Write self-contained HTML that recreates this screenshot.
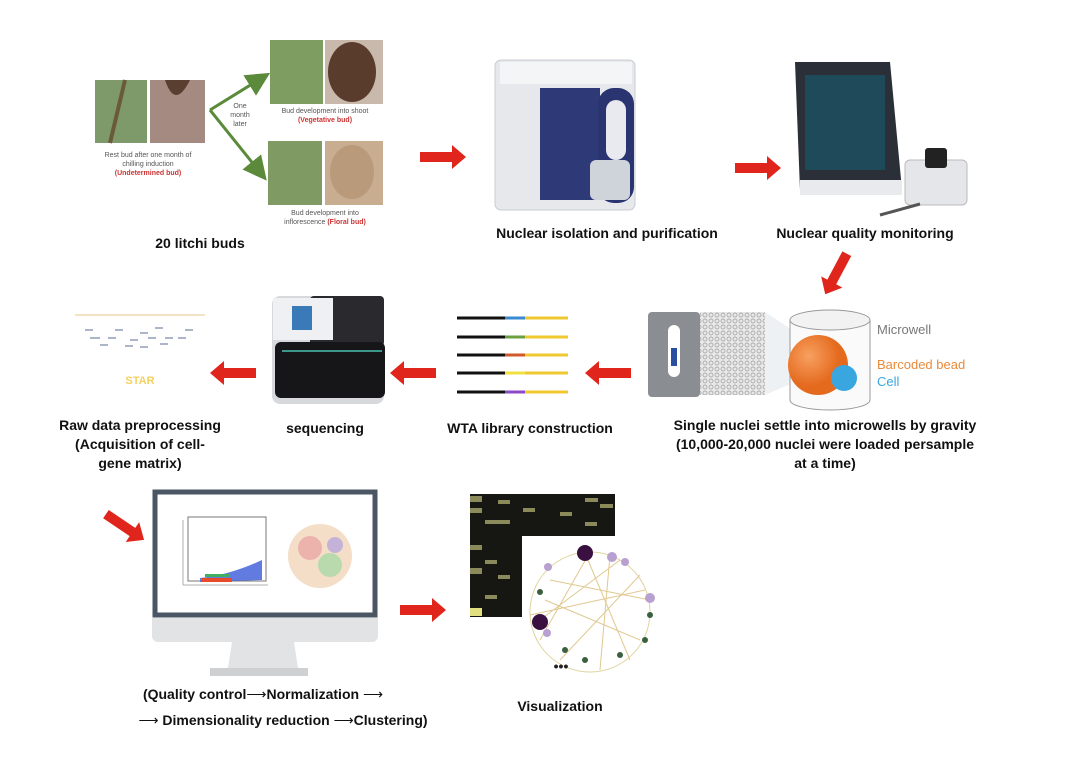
<!DOCTYPE html>
<html><head><meta charset="utf-8"><style>
body{margin:0;background:#fff}
svg{display:block}
text{font-family:"Liberation Sans",Arial,sans-serif}
.b{font-weight:bold;font-size:14px;fill:#111}
.s{font-size:7px;fill:#555}
</style></head><body>
<svg width="1080" height="759" viewBox="0 0 1080 759">
<defs>
<marker id="ga" markerWidth="8" markerHeight="8" refX="6" refY="4" orient="auto"><path d="M0,0L8,4L0,8z" fill="#5a8a3a"/></marker>
<pattern id="hx" width="6" height="6" patternUnits="userSpaceOnUse"><rect width="6" height="6" fill="#e8e8e8"/><circle cx="3" cy="3" r="2" fill="none" stroke="#999" stroke-width="0.7"/></pattern>
<radialGradient id="og" cx="0.35" cy="0.35"><stop offset="0" stop-color="#f8a060"/><stop offset="1" stop-color="#e46a1e"/></radialGradient>
<path id="ra" d="M-23,-5h32v-7l14,12l-14,12v-7h-32z" fill="#e0261c"/>
</defs>

<!-- Bud photos -->
<rect x="95" y="80" width="52" height="63" fill="#7f9a6a"/>
<path d="M110,143 L125,80" stroke="#6b5a3a" stroke-width="4"/>
<rect x="150" y="80" width="55" height="63" fill="#a48a80"/>
<path d="M165,80 Q175,110 190,80" fill="#5a3e30"/>
<text x="148" y="157" text-anchor="middle" class="s">Rest bud after one month of</text>
<text x="148" y="166" text-anchor="middle" class="s">chilling induction</text>
<text x="148" y="175" text-anchor="middle" class="s" style="fill:#c33;font-weight:bold">(Undetermined bud)</text>

<rect x="270" y="40" width="53" height="64" fill="#7d9e60"/>
<rect x="325" y="40" width="58" height="64" fill="#c9b9ad"/>
<ellipse cx="352" cy="72" rx="24" ry="30" fill="#5a3c2c"/>
<text x="325" y="113" text-anchor="middle" class="s">Bud development into shoot</text>
<text x="325" y="122" text-anchor="middle" class="s" style="fill:#c33;font-weight:bold">(Vegetative bud)</text>

<rect x="268" y="141" width="54" height="64" fill="#809a64"/>
<rect x="325" y="141" width="58" height="64" fill="#c8ad90"/>
<ellipse cx="352" cy="172" rx="22" ry="27" fill="#b99a7a"/>
<text x="325" y="215" text-anchor="middle" class="s">Bud development into</text>
<text x="325" y="224" text-anchor="middle" class="s">inflorescence <tspan style="fill:#c33;font-weight:bold">(Floral bud)</tspan></text>

<path d="M210,110 L265,76" stroke="#5a8a3a" stroke-width="3" marker-end="url(#ga)"/>
<path d="M210,110 L263,176" stroke="#5a8a3a" stroke-width="3" marker-end="url(#ga)"/>
<text x="240" y="108" text-anchor="middle" class="s">One</text>
<text x="240" y="117" text-anchor="middle" class="s">month</text>
<text x="240" y="126" text-anchor="middle" class="s">later</text>
<text x="200" y="248" text-anchor="middle" class="b">20 litchi buds</text>

<!-- red arrows -->
<use href="#ra" transform="translate(443,157)"/>
<use href="#ra" transform="translate(758,168)"/>
<use href="#ra" transform="translate(836,274) rotate(118)"/>
<use href="#ra" transform="translate(608,373) rotate(180)"/>
<use href="#ra" transform="translate(413,373) rotate(180)"/>
<use href="#ra" transform="translate(233,373) rotate(180)"/>
<use href="#ra" transform="translate(125,527) rotate(34)"/>
<use href="#ra" transform="translate(423,610)"/>

<!-- Machine 1 -->
<rect x="495" y="60" width="140" height="150" rx="6" fill="#e6e8ec" stroke="#c8ccd2"/>
<rect x="500" y="62" width="132" height="22" fill="#f4f5f7"/>
<path d="M540,88 L600,88 L600,200 L540,200z" fill="#2e3a78"/>
<rect x="598" y="88" width="36" height="115" rx="16" fill="#2a3470"/>
<rect x="606" y="100" width="20" height="60" rx="10" fill="#e8eaf0"/>
<rect x="590" y="160" width="40" height="40" rx="6" fill="#cfd3da"/>
<text x="607" y="238" text-anchor="middle" class="b">Nuclear isolation and purification</text>

<!-- Machine 2 -->
<path d="M795,62 L890,62 L902,190 L800,190z" fill="#2a2f38"/>
<rect x="805" y="75" width="80" height="95" fill="#1e4a5a"/>
<rect x="800" y="180" width="102" height="15" fill="#e8eaee"/>
<rect x="905" y="160" width="62" height="45" rx="5" fill="#e4e6ea" stroke="#bbb"/>
<rect x="925" y="148" width="22" height="20" rx="3" fill="#222"/>
<path d="M880,215 L920,204" stroke="#555" stroke-width="3"/>
<text x="865" y="238" text-anchor="middle" class="b">Nuclear quality monitoring</text>

<!-- Microwell -->
<rect x="648" y="312" width="52" height="85" rx="4" fill="#8a8d92"/>
<rect x="668" y="325" width="12" height="52" rx="6" fill="#fff"/>
<rect x="671" y="348" width="6" height="18" fill="#2a4fa0"/>
<path d="M700,312 L765,312 L765,395 L700,395z" fill="url(#hx)"/>
<path d="M765,312 L800,335 L800,380 L765,395z" fill="#eef1f4"/>
<path d="M790,320 L790,400 A40,10 0 0 0 870,400 L870,320" fill="#fafafa" stroke="#999"/>
<ellipse cx="830" cy="320" rx="40" ry="10" fill="#f2f2f2" stroke="#999"/>
<circle cx="818" cy="365" r="30" fill="url(#og)"/>
<circle cx="844" cy="378" r="13" fill="#3aa6e0"/>
<text x="877" y="334" font-size="13" fill="#777">Microwell</text>
<text x="877" y="369" font-size="13" fill="#ea8a3a">Barcoded bead</text>
<text x="877" y="386" font-size="13" fill="#3aa6e0">Cell</text>
<text x="825" y="430" text-anchor="middle" class="b">Single nuclei settle into microwells by gravity</text>
<text x="825" y="449" text-anchor="middle" class="b">(10,000-20,000 nuclei were loaded persample</text>
<text x="825" y="468" text-anchor="middle" class="b">at a time)</text>

<!-- WTA -->
<g stroke-width="3">
<g><path d="M457,318h48" stroke="#111"/><path d="M505,318h20" stroke="#3a8ad0"/><path d="M525,318h43" stroke="#f0c830"/></g>
<g><path d="M457,337h48" stroke="#111"/><path d="M505,337h20" stroke="#6aa040"/><path d="M525,337h43" stroke="#f0c830"/></g>
<g><path d="M457,355h48" stroke="#111"/><path d="M505,355h20" stroke="#d05a2a"/><path d="M525,355h43" stroke="#f0c830"/></g>
<g><path d="M457,373h48" stroke="#111"/><path d="M505,373h20" stroke="#f0e040"/><path d="M525,373h43" stroke="#f0c830"/></g>
<g><path d="M457,392h48" stroke="#111"/><path d="M505,392h20" stroke="#8a4ac8"/><path d="M525,392h43" stroke="#f0c830"/></g>
</g>
<text x="530" y="433" text-anchor="middle" class="b">WTA library construction</text>

<!-- Sequencer -->
<rect x="272" y="296" width="112" height="108" rx="8" fill="#d8d9dc"/>
<rect x="310" y="296" width="74" height="50" rx="4" fill="#2a2a2e"/>
<rect x="273" y="298" width="60" height="42" fill="#eef0f2"/>
<rect x="292" y="306" width="20" height="24" fill="#3a7ab8"/>
<rect x="275" y="342" width="110" height="56" rx="6" fill="#161618"/>
<path d="M282,351h100" stroke="#4ac0b0" stroke-width="1.5"/>
<text x="325" y="433" text-anchor="middle" class="b">sequencing</text>

<!-- Raw data -->
<path d="M75,315h130" stroke="#f0d8b0" stroke-width="1.5"/>
<g stroke="#7a8aa8" stroke-width="1.2">
<path d="M85,330h8M115,330h8M140,333h8M155,328h8M185,330h8M90,338h10M108,338h8M130,340h8M148,338h8M165,338h8M178,338h8M100,345h8M125,346h8M140,347h8M160,344h8"/>
</g>
<text x="140" y="384" text-anchor="middle" font-size="11" font-weight="bold" fill="#f5d060">STAR</text>
<text x="140" y="430" text-anchor="middle" class="b">Raw data preprocessing</text>
<text x="140" y="449" text-anchor="middle" class="b">(Acquisition of cell-</text>
<text x="140" y="468" text-anchor="middle" class="b">gene matrix)</text>

<!-- Monitor -->
<rect x="155" y="492" width="220" height="123" fill="#fff" stroke="#4a5663" stroke-width="5"/>
<path d="M152,618h226v18a6,6 0 0 1 -6,6h-214a6,6 0 0 1 -6,-6z" fill="#e2e3e5"/>
<path d="M232,642h62l4,26h-70z" fill="#e2e3e5"/>
<rect x="210" y="668" width="98" height="8" fill="#cfd0d2"/>
<rect x="188" y="517" width="78" height="64" fill="none" stroke="#777" stroke-width="1"/>
<path d="M183,585h85M183,520v65" stroke="#999" stroke-width="0.8"/>
<path d="M200,578 Q230,575 262,560 L262,580 L200,582z" fill="#3a5ad8" opacity="0.8"/>
<rect x="202" y="578" width="30" height="4" fill="#e84a2a"/>
<rect x="205" y="574" width="25" height="3" fill="#40b060"/>
<circle cx="320" cy="556" r="32" fill="#f0d0b0" opacity="0.7"/>
<circle cx="310" cy="548" r="12" fill="#e8a0a0" opacity="0.7"/>
<circle cx="330" cy="565" r="12" fill="#a0d8a0" opacity="0.7"/>
<circle cx="335" cy="545" r="8" fill="#b0a0e0" opacity="0.7"/>
<text x="263" y="699" text-anchor="middle" class="b">(Quality control<tspan font-weight="normal">⟶</tspan>Normalization <tspan font-weight="normal">⟶</tspan></text>
<text x="283" y="725" text-anchor="middle" class="b"><tspan font-weight="normal">⟶</tspan> Dimensionality reduction <tspan font-weight="normal">⟶</tspan>Clustering)</text>

<!-- Visualization -->
<rect x="470" y="494" width="145" height="42" fill="#161612"/>
<rect x="470" y="536" width="52" height="81" fill="#161612"/>
<g fill="#8a8a5a">
<rect x="470" y="496" width="12" height="6"/><rect x="498" y="500" width="12" height="4"/><rect x="585" y="498" width="13" height="4"/><rect x="600" y="504" width="13" height="4"/>
<rect x="470" y="508" width="12" height="5"/><rect x="523" y="508" width="12" height="4"/><rect x="560" y="512" width="12" height="4"/><rect x="485" y="520" width="25" height="4"/><rect x="585" y="522" width="12" height="4"/>
<rect x="470" y="545" width="12" height="5"/><rect x="485" y="560" width="12" height="4"/><rect x="470" y="568" width="12" height="6"/><rect x="498" y="575" width="12" height="4"/><rect x="485" y="595" width="12" height="4"/>
<rect x="470" y="608" width="12" height="8" fill="#e0e080"/>
</g>
<circle cx="590" cy="612" r="60" fill="#fff" stroke="#e0d4a0" stroke-width="1"/>
<g stroke="#e0c890" stroke-width="1" fill="none">
<path d="M585,553L630,660M550,580L650,600M540,620L620,560M560,660L640,575M590,552L540,640M600,670L610,555M545,600L640,640M530,615L645,590"/>
</g>
<circle cx="585" cy="553" r="8" fill="#3a1040"/>
<circle cx="540" cy="622" r="8" fill="#3a1040"/>
<g fill="#b8a0d0"><circle cx="612" cy="557" r="5"/><circle cx="625" cy="562" r="4"/><circle cx="650" cy="598" r="5"/><circle cx="548" cy="567" r="4"/><circle cx="547" cy="633" r="4"/></g>
<g fill="#3a6040"><circle cx="540" cy="592" r="3"/><circle cx="650" cy="615" r="3"/><circle cx="565" cy="650" r="3"/><circle cx="585" cy="660" r="3"/><circle cx="620" cy="655" r="3"/><circle cx="645" cy="640" r="3"/></g>
<text x="561" y="671" text-anchor="middle" font-size="14" font-weight="bold" fill="#222">•••</text>
<text x="560" y="711" text-anchor="middle" class="b">Visualization</text>
</svg>
</body></html>
